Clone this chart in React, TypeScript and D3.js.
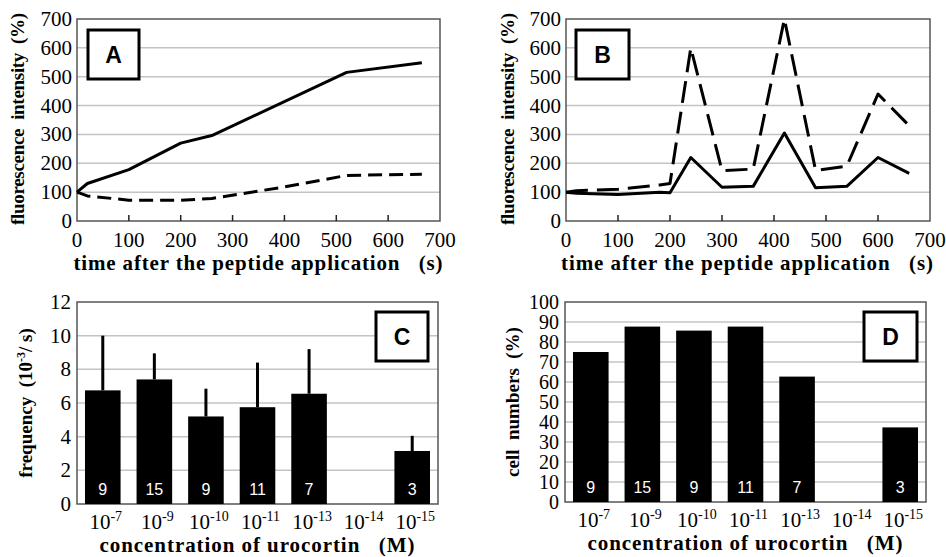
import React from "react";
import * as d3 from "d3";

const A_timeSolid = [0, 20, 100, 200, 260, 520, 665];
const A_solid = [100, 130, 178, 270, 296, 515, 548];
const A_timeDashed = [0, 20, 100, 200, 260, 400, 520, 665];
const A_dashed = [100, 87, 72, 72, 78, 118, 158, 162];

const B_time = [0, 20, 100, 180, 200, 240, 300, 360, 420, 480, 540, 600, 660];
const B_solid = [100, 96, 92, 100, 98, 220, 117, 120, 305, 115, 120, 220, 165];
const B_dashed = [100, 105, 110, 125, 130, 600, 174, 180, 700, 175, 190, 440, 330];

const timeTicks = [0, 100, 200, 300, 400, 500, 600, 700];
const intensityTicks = [0, 100, 200, 300, 400, 500, 600, 700];

const concentrations = ["-7", "-9", "-10", "-11", "-13", "-14", "-15"];
const C_freq = [6.75, 7.4, 5.2, 5.75, 6.55, null, 3.15];
const C_err = [10.0, 8.95, 6.85, 8.4, 9.2, null, 4.05];
const C_ticks = [0, 2, 4, 6, 8, 10, 12];
const D_cells = [75, 87.7, 85.7, 87.7, 62.7, null, 37.3];
const D_ticks = [0, 10, 20, 30, 40, 50, 60, 70, 80, 90, 100];
const nCells = [9, 15, 9, 11, 7, null, 3];

const SERIF = "'Liberation Serif', 'Times New Roman', serif";
const SANS = "'Liberation Sans', Arial, sans-serif";
const GRID = "#c4c4c4";
const FRAME = "#555";

function LabelBox({ x, y, w, h, t }: any) {
  return (
    <g>
      <rect x={x} y={y} width={w} height={h} fill="#fff" stroke="#000" strokeWidth={3} />
      <text x={x + w / 2} y={y + h / 2 + 8} textAnchor="middle" style={{ fontFamily: SANS }} fontWeight="bold" fontSize={23}>
        {t}
      </text>
    </g>
  );
}

function LinePanel({ x0, x1, y0, y1, series, box, yTitleX, xTitleCx, xTitleLen }: any) {
  const xs = d3.scaleLinear().domain([0, 700]).range([x0, x1]);
  const ys = d3.scaleLinear().domain([0, 700]).range([y1, y0]);
  const line = d3.line<[number, number]>().x((d) => xs(d[0])).y((d) => ys(d[1]));
  return (
    <g>
      {intensityTicks.slice(1, -1).map((t) => (
        <line key={t} x1={x0} x2={x1} y1={ys(t)} y2={ys(t)} stroke={GRID} strokeWidth={1.5} />
      ))}
      <rect x={x0} y={y0} width={x1 - x0} height={y1 - y0} fill="none" stroke={FRAME} strokeWidth={1.5} />
      {timeTicks.slice(1, -1).map((t) => (
        <line key={t} x1={xs(t)} x2={xs(t)} y1={y1} y2={y1 - 6} stroke="#222" strokeWidth={1.5} />
      ))}
      {intensityTicks.map((t) => (
        <text key={t} x={x0 - 5} y={ys(t) + 7} textAnchor="end" style={{ fontFamily: SERIF }} fontSize={21}>
          {t}
        </text>
      ))}
      {timeTicks.map((t) => (
        <text key={t} x={xs(t)} y={y1 + 26} textAnchor="middle" style={{ fontFamily: SERIF }} fontSize={21}>
          {t}
        </text>
      ))}
      {series.map((s: any, i: number) => (
        <path
          key={i}
          d={line(s.t.map((tt: number, j: number) => [tt, s.v[j]]))!}
          fill="none"
          stroke="#000"
          strokeWidth={3}
          strokeDasharray={s.dash}
          strokeLinejoin="round"
        />
      ))}
      <text
        x={xTitleCx}
        y={y1 + 49}
        textAnchor="middle"
        style={{ fontFamily: SERIF, whiteSpace: "pre" }}
        fontWeight="bold"
        fontSize={21}
        textLength={xTitleLen}
        lengthAdjust="spacing"
      >
        {"time after the peptide application   (s)"}
      </text>
      <text
        transform={`translate(${yTitleX},${(y0 + y1) / 2 - 1}) rotate(-90)`}
        textAnchor="middle"
        style={{ fontFamily: SERIF, whiteSpace: "pre" }}
        fontWeight="bold"
        fontSize={19}
        textLength={212}
        lengthAdjust="spacing"
      >
        {"fluorescence  intensity  (%)"}
      </text>
      <LabelBox {...box} />
    </g>
  );
}

function BarPanel({ x0, x1, y0, y1, max, ticks, vals, errs, box, yTitleX, yTitle, yTitleLen, tickFont, xTitleCx }: any) {
  const xs = d3.scaleBand().domain(concentrations).range([x0, x1]).paddingInner(0.31).paddingOuter(0.155);
  const ys = d3.scaleLinear().domain([0, max]).range([y1, y0]);
  return (
    <g>
      {ticks.slice(1, -1).map((t: number) => (
        <line key={t} x1={x0} x2={x1} y1={ys(t)} y2={ys(t)} stroke={GRID} strokeWidth={1.5} />
      ))}
      <rect x={x0} y={y0} width={x1 - x0} height={y1 - y0} fill="none" stroke={FRAME} strokeWidth={1.5} />
      {errs &&
        concentrations.map((c, i) =>
          errs[i] == null ? null : (
            <line key={c} x1={xs(c)! + xs.bandwidth() / 2} x2={xs(c)! + xs.bandwidth() / 2} y1={ys(vals[i])} y2={ys(errs[i])} stroke="#000" strokeWidth={3} />
          )
        )}
      {concentrations.map((c, i) =>
        vals[i] == null ? null : (
          <g key={c}>
            <rect x={xs(c)} y={ys(vals[i])} width={xs.bandwidth()} height={y1 - ys(vals[i])} fill="#000" />
            <text x={xs(c)! + xs.bandwidth() / 2} y={y1 - 9} textAnchor="middle" fill="#fff" style={{ fontFamily: SANS }} fontSize={16}>
              {nCells[i]}
            </text>
          </g>
        )
      )}
      {ticks.map((t: number) => (
        <text key={t} x={x0 - 6} y={ys(t) + 7} textAnchor="end" style={{ fontFamily: SERIF }} fontSize={tickFont}>
          {t}
        </text>
      ))}
      {concentrations.map((c) => (
        <text key={c} x={xs(c)! + xs.bandwidth() / 2 + 3} y={y1 + 25} textAnchor="middle" style={{ fontFamily: SERIF }} fontSize={21}>
          10
          <tspan fontSize={14} dy={-8}>{c}</tspan>
        </text>
      ))}
      <text
        x={xTitleCx}
        y={y1 + 48}
        textAnchor="middle"
        style={{ fontFamily: SERIF, whiteSpace: "pre" }}
        fontWeight="bold"
        fontSize={21}
        textLength={315}
        lengthAdjust="spacing"
      >
        {"concentration of urocortin   (M)"}
      </text>
      <text
        transform={`translate(${yTitleX},${(y0 + y1) / 2}) rotate(-90)`}
        textAnchor="middle"
        style={{ fontFamily: SERIF, whiteSpace: "pre" }}
        fontWeight="bold"
        fontSize={19}
      >
        {yTitle}
      </text>
      <LabelBox {...box} />
    </g>
  );
}

export default function App() {
  return (
    <svg width={946} height={557} style={{ position: "absolute", left: 0, top: 0, background: "#fff" }}>
      <rect width={946} height={557} fill="#fff" />
      <LinePanel
        x0={77}
        x1={440}
        y0={19}
        y1={221}
        yTitleX={24}
        xTitleCx={258}
        xTitleLen={369}
        series={[
          { t: A_timeSolid, v: A_solid, dash: null },
          { t: A_timeDashed, v: A_dashed, dash: "14,7" },
        ]}
        box={{ x: 88, y: 30, w: 51, h: 49, t: "A" }}
      />
      <LinePanel
        x0={566}
        x1={930}
        y0={19}
        y1={221}
        yTitleX={514}
        xTitleCx={747}
        xTitleLen={372}
        series={[
          { t: B_time, v: B_solid, dash: null },
          { t: B_time, v: B_dashed, dash: "22,9" },
        ]}
        box={{ x: 576, y: 30, w: 53, h: 49, t: "B" }}
      />
      <BarPanel
        x0={77}
        x1={438}
        y0={302}
        y1={504}
        max={12}
        ticks={C_ticks}
        tickFont={21}
        vals={C_freq}
        errs={C_err}
        yTitleX={32}
        xTitleCx={257}
        yTitle={
          <>
            {"frequency  (10"}
            <tspan fontSize={12} dy={-7}>-3</tspan>
            <tspan dy={7}>{"/ s)"}</tspan>
          </>
        }
        box={{ x: 376, y: 312, w: 52, h: 49, t: "C" }}
      />
      <BarPanel
        x0={565}
        x1={926}
        y0={302}
        y1={502}
        max={100}
        ticks={D_ticks}
        tickFont={20}
        vals={D_cells}
        errs={null}
        yTitleX={519}
        xTitleCx={745}
        yTitle={"cell  numbers  (%)"}
        box={{ x: 864, y: 312, w: 53, h: 49, t: "D" }}
      />
    </svg>
  );
}
